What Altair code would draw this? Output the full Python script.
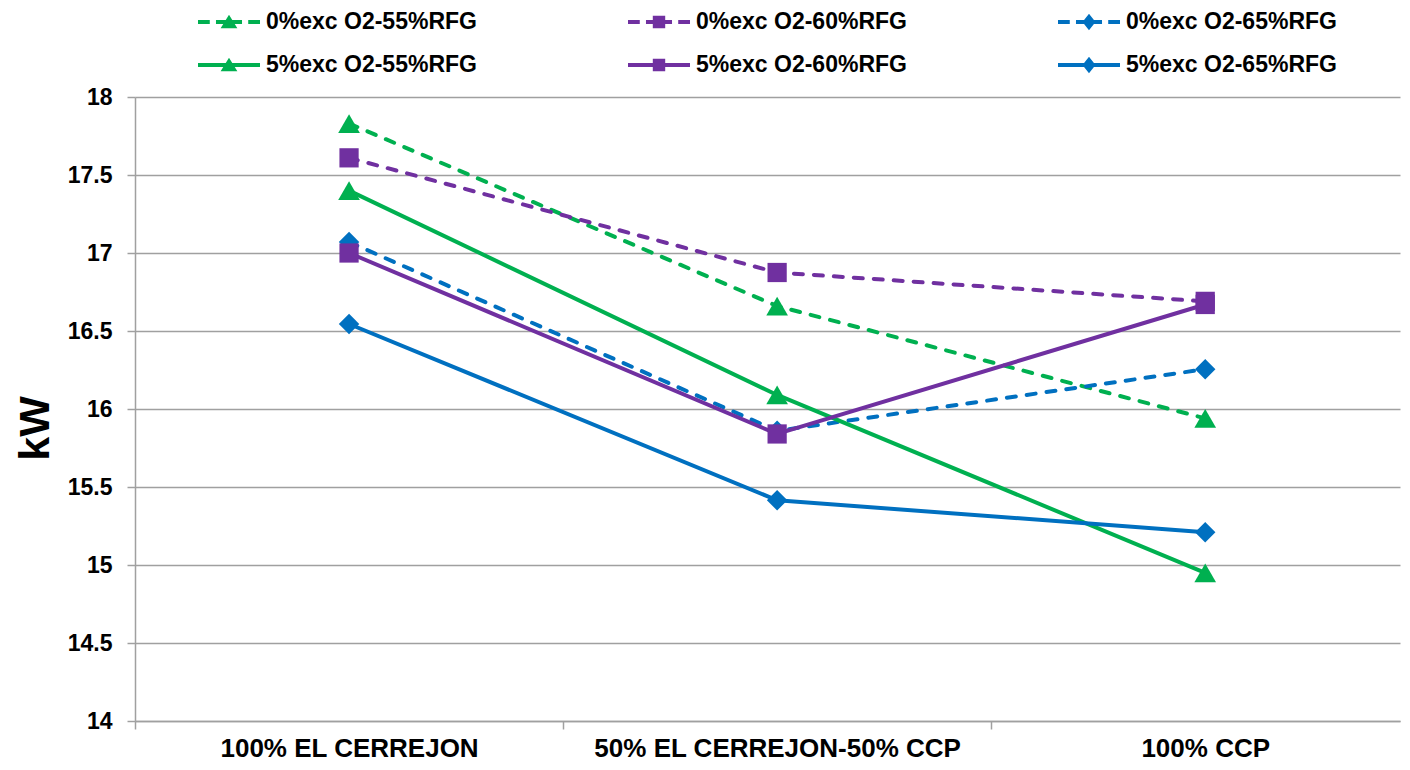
import altair as alt
import pandas as pd

categories = ["100% EL CERREJON", "50% EL CERREJON-50% CCP", "100% CCP"]
series_names = ["0%exc O2-55%RFG", "0%exc O2-60%RFG", "0%exc O2-65%RFG",
                "5%exc O2-55%RFG", "5%exc O2-60%RFG", "5%exc O2-65%RFG"]
exc0_rfg55 = [17.83, 16.66, 15.94]
exc0_rfg60 = [17.61, 16.875, 16.69]
exc0_rfg65 = [17.07, 15.86, 16.255]
exc5_rfg55 = [17.40, 16.09, 14.95]
exc5_rfg60 = [17.00, 15.84, 16.67]
exc5_rfg65 = [16.545, 15.415, 15.21]
series_values = [exc0_rfg55, exc0_rfg60, exc0_rfg65, exc5_rfg55, exc5_rfg60, exc5_rfg65]
colors = ["#00B050", "#7030A0", "#0070C0", "#00B050", "#7030A0", "#0070C0"]
markers = ["triangle-up", "square", "diamond", "triangle-up", "square", "diamond"]
marker_sizes = [470, 370, 420, 470, 370, 420]
dashed = [True, True, True, False, False, False]
y_ticks = [14, 14.5, 15, 15.5, 16, 16.5, 17, 17.5, 18]

rows = []
for s, vals in zip(series_names, series_values):
    for i, (c, v) in enumerate(zip(categories, vals)):
        rows.append({"category": c, "idx": i, "series": s, "value": v})
df = pd.DataFrame(rows)

FONT = "Liberation Sans"
GRID = "#A0A0A0"

# legend symbol paths: line (solid or dashed) with a marker in the middle
t = 0.065
def rect(x0, x1):
    return f"M{x0},{-t}L{x1},{-t}L{x1},{t}L{x0},{t}Z"
marker_paths = {
    "triangle-up": "M0,-0.23L0.27,0.2L-0.27,0.2Z",
    "square": "M-0.2,-0.2L0.2,-0.2L0.2,0.2L-0.2,0.2Z",
    "diamond": "M0,-0.27L0.21,0L0,0.27L-0.21,0Z",
}
legend_paths = []
for m, d in zip(markers, dashed):
    if d:
        line = rect(-1, -0.62) + rect(-0.42, 0.42) + rect(0.62, 1)
    else:
        line = rect(-1, 1)
    legend_paths.append(line + marker_paths[m])

label_expr = "".join(f"datum.value == {i} ? '{c}' : " for i, c in enumerate(categories)) + "''"

x_enc = alt.X(
    "idx:Q",
    scale=alt.Scale(domain=[-0.5, 2.455], nice=False, zero=False),
    axis=alt.Axis(
        values=[-0.5, 0, 0.5, 1, 1.5, 2],
        labelExpr=label_expr,
        tickOpacity={"condition": {"test": "datum.value % 1 != 0", "value": 1}, "value": 0},
        grid=False, title=None,
        domainColor=GRID, domainWidth=1.5, tickColor=GRID, tickWidth=1.5, tickSize=8,
        labelFont=FONT, labelFontSize=26, labelFontWeight="bold", labelColor="black",
        labelPadding=6, labelFlush=False, labelOverlap=False, labelLimit=600,
    ),
)
y_enc = alt.Y(
    "value:Q",
    scale=alt.Scale(domain=[14, 18], nice=False, zero=False),
    axis=alt.Axis(
        values=y_ticks, format=".1~f",
        grid=True, gridColor=GRID, gridWidth=1.5,
        domainColor=GRID, domainWidth=1.5, tickColor=GRID, tickWidth=1.5, tickSize=8,
        labelFont=FONT, labelFontSize=23, labelFontWeight="bold", labelColor="black",
        labelPadding=15,
        title="kW", titleFont=FONT, titleFontSize=43, titleFontWeight="bold", titleColor="black",
        titleX=-87, titleY=331, titleBaseline="alphabetic", titleAlign="center", titleAngle=270,
    ),
)

base = alt.Chart(df).encode(x=x_enc, y=y_enc)

layers = []
for s, c, m, sz, d in zip(series_names, colors, markers, marker_sizes, dashed):
    sub = base.transform_filter(alt.datum.series == s)
    if d:
        line = sub.mark_line(color=c, strokeWidth=4, strokeDash=[9, 11], strokeCap="round", strokeJoin="round")
    else:
        line = sub.mark_line(color=c, strokeWidth=4, strokeJoin="round")
    pts = sub.mark_point(filled=True, shape=m, size=sz, color=c, opacity=1, strokeWidth=0)
    layers += [line, pts]

legend_def = alt.Legend(
    title=None, orient="none", legendX=63, legendY=-106, columns=3, direction="horizontal",
    columnPadding=151, rowPadding=-21, padding=0,
    symbolSize=3844, symbolStrokeWidth=0, symbolOpacity=1,
    labelFont=FONT, labelFontSize=23, labelFontWeight="bold", labelColor="black",
    labelOffset=6, labelLimit=400,
)
legend_layer = base.mark_point(opacity=0, filled=True).encode(
    color=alt.Color("series:N", scale=alt.Scale(domain=series_names, range=colors), legend=legend_def),
    shape=alt.Shape("series:N", scale=alt.Scale(domain=series_names, range=legend_paths), legend=legend_def),
)

chart = alt.layer(*layers, legend_layer).properties(
    width=1265, height=624,
    autosize="none",
    padding={"left": 127, "top": 89, "right": 2, "bottom": 41},
).configure_view(stroke=None)

chart.save("out.html", embed_options={"renderer": "svg", "actions": False})
